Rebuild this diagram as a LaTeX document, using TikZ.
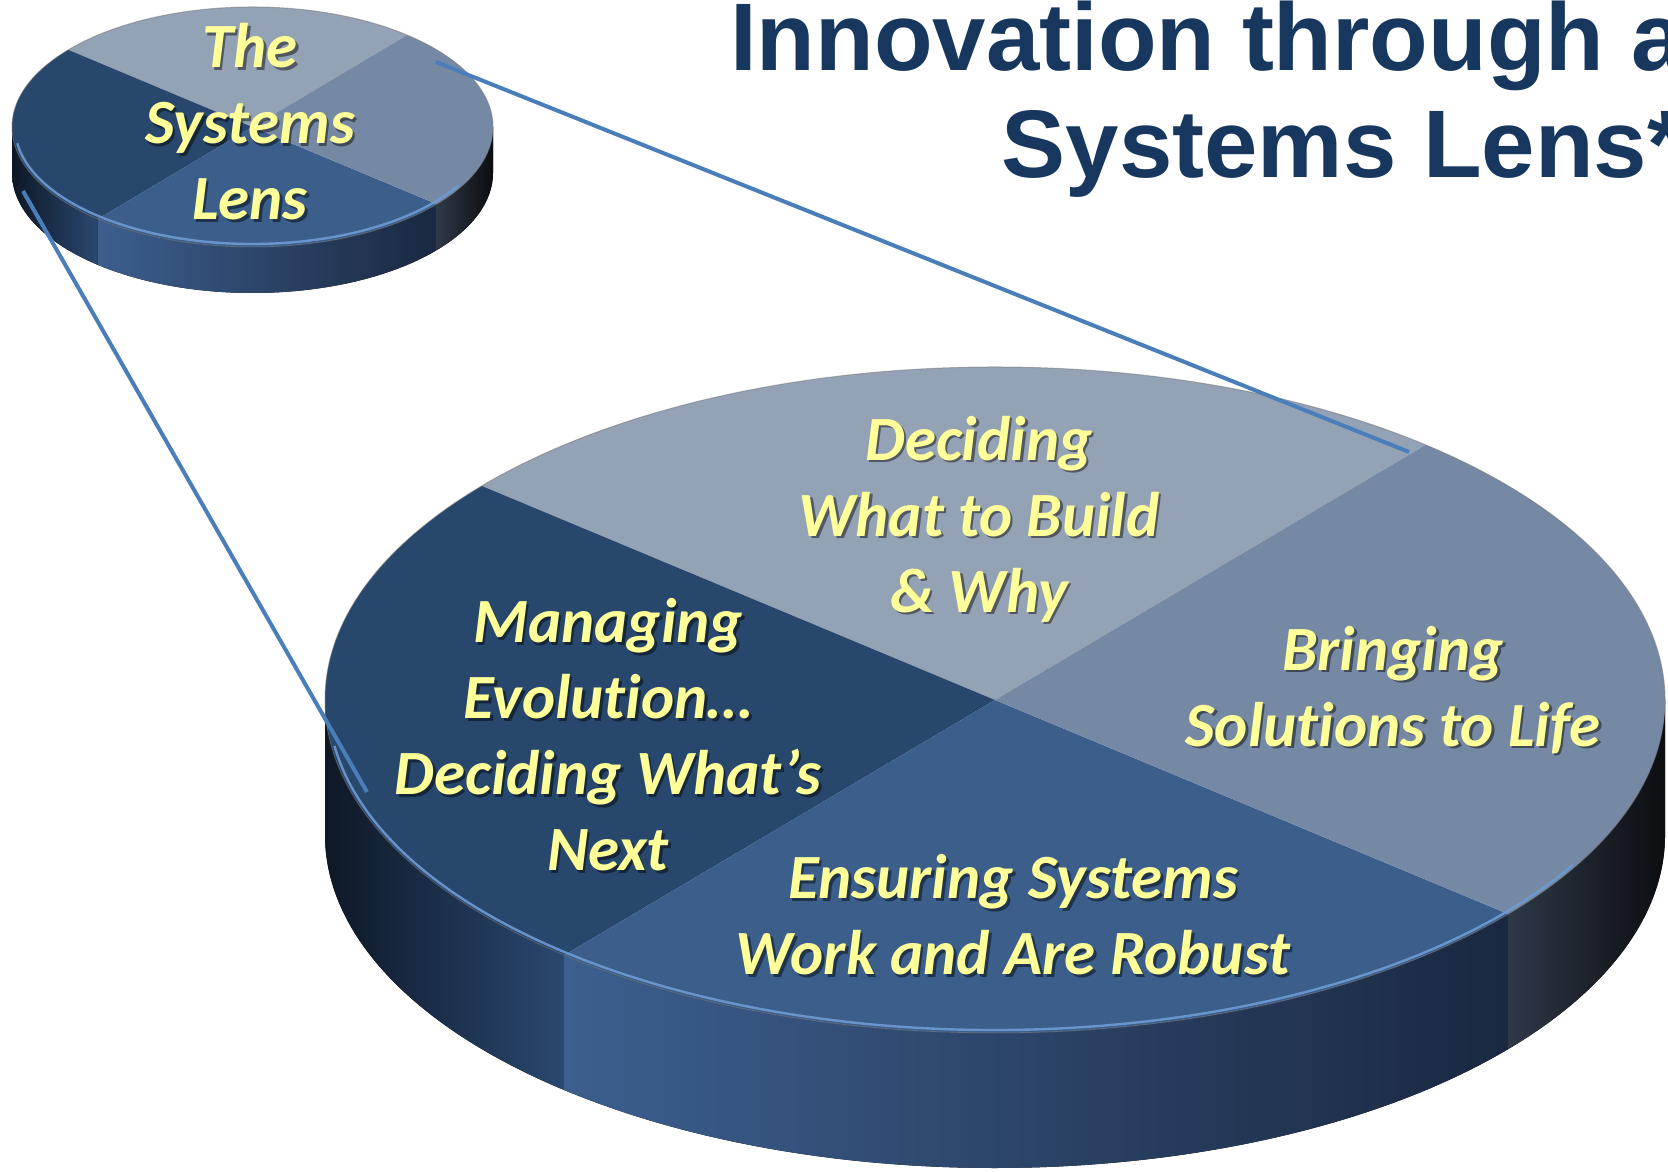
\documentclass[tikz,border=0pt]{standalone}
\usepackage{fontspec}
\setmainfont[Ligatures=NoCommon]{Carlito}
\newfontfamily\titlefont{Liberation Sans}
\definecolor{topS}{HTML}{94A2B5}
\definecolor{rightS}{HTML}{7689A4}
\definecolor{leftS}{HTML}{28476C}
\definecolor{botS}{HTML}{3B5E8B}
\definecolor{lwA}{HTML}{0E1826}
\definecolor{lwB}{HTML}{2A4870}
\definecolor{bwA}{HTML}{3C5F8E}
\definecolor{bwB}{HTML}{1A2840}
\definecolor{rwA}{HTML}{2E3847}
\definecolor{rwB}{HTML}{0C0E11}
\definecolor{rimhl}{HTML}{6E9BD4}
\definecolor{linkc}{HTML}{4A7EBB}
\definecolor{piey}{HTML}{FFFF99}
\definecolor{titlec}{HTML}{17375E}
\newcommand\pieshape[5]{%
  % side walls
  \fill[left color=lwA, right color=lwB]
    ({#1+#3*cos(180)},{#2+#4*sin(180)}) arc[start angle=180,end angle=230,x radius=#3,y radius=#4]
    -- ++(0,-#5) arc[start angle=230,end angle=180,x radius=#3,y radius=#4] -- cycle;
  \fill[left color=bwA, right color=bwB]
    ({#1+#3*cos(230)},{#2+#4*sin(230)}) arc[start angle=230,end angle=320,x radius=#3,y radius=#4]
    -- ++(0,-#5) arc[start angle=320,end angle=230,x radius=#3,y radius=#4] -- cycle;
  \fill[left color=rwA, right color=rwB]
    ({#1+#3*cos(320)},{#2+#4*sin(320)}) arc[start angle=320,end angle=360,x radius=#3,y radius=#4]
    -- ++(0,-#5) arc[start angle=360,end angle=320,x radius=#3,y radius=#4] -- cycle;
  % top face
  \fill[topS] (#1,#2) -- ({#1+#3*cos(50)},{#2+#4*sin(50)}) arc[start angle=50,end angle=140,x radius=#3,y radius=#4] -- cycle;
  \fill[leftS] (#1,#2) -- ({#1+#3*cos(140)},{#2+#4*sin(140)}) arc[start angle=140,end angle=230,x radius=#3,y radius=#4] -- cycle;
  \fill[botS] (#1,#2) -- ({#1+#3*cos(230)},{#2+#4*sin(230)}) arc[start angle=230,end angle=320,x radius=#3,y radius=#4] -- cycle;
  \fill[rightS] (#1,#2) -- ({#1+#3*cos(320)},{#2+#4*sin(320)}) arc[start angle=320,end angle=410,x radius=#3,y radius=#4] -- cycle;
  \draw[black!55, opacity=0.5, line width=0.5pt] (#1,#2) ellipse [x radius=#3, y radius=#4];
  % rim highlight
  \draw[rimhl, line width=1.2pt, opacity=0.9]
    ({#1+(#3-3)*cos(188)},{#2+(#4-3)*sin(188)}) arc[start angle=188,end angle=330,x radius=#3-3,y radius=#4-3];
}
\tikzset{
  pietext/.style={font=\bfseries\itshape\fontsize{31.5}{38}\selectfont, text=piey, align=center, inner sep=0pt},
  pieshadow/.style={pietext, text=black, text opacity=0.45},
  linkline/.style={draw=linkc, line width=2pt},
  titlestyle/.style={font=\titlefont\bfseries\fontsize{48}{53}\selectfont, text=titlec, inner sep=0pt}
}
\newcommand\ptext[4]{%
  \node[pieshadow] (#1-s) at (#2+2.5,#3-2.5) {#4};
  \node[pietext] (#1) at (#2,#3) {#4};
}
\begin{document}
\begin{tikzpicture}[x=0.5pt,y=0.5pt]
\useasboundingbox (0,0) rectangle (1668,1171);
\fill[white] (0,0) rectangle (1668,1171);

% big pie
\pieshape{995}{471}{670}{333}{135}
% small pie
\pieshape{252.5}{1044}{240.5}{120}{46}

% connectors
\coordinate (s1) at (436,1109);
\coordinate (b1) at (1409,719);
\coordinate (s2) at (23,980);
\coordinate (b2) at (367,379);
\draw[linkline] (s1) -- (b1);
\draw[linkline] (s2) -- (b2);

% title
\node[titlestyle, anchor=base east] (t1) at (1685,1100) {Innovation through a};
\node[titlestyle, anchor=base east] (t2) at (1685,993) {Systems Lens*};

% pie texts
\ptext{lens}{250}{1049}{The\\Systems\\Lens}
\ptext{build}{979}{652}{Deciding\\What to Build\\\& Why}
\ptext{life}{1393}{481}{Bringing\\Solutions to Life}
\ptext{evol}{608}{436}{Managing\\Evolution…\\Deciding What’s\\Next}
\ptext{robust}{1013}{256}{Ensuring Systems\\Work and Are Robust}
\end{tikzpicture}
\end{document}
